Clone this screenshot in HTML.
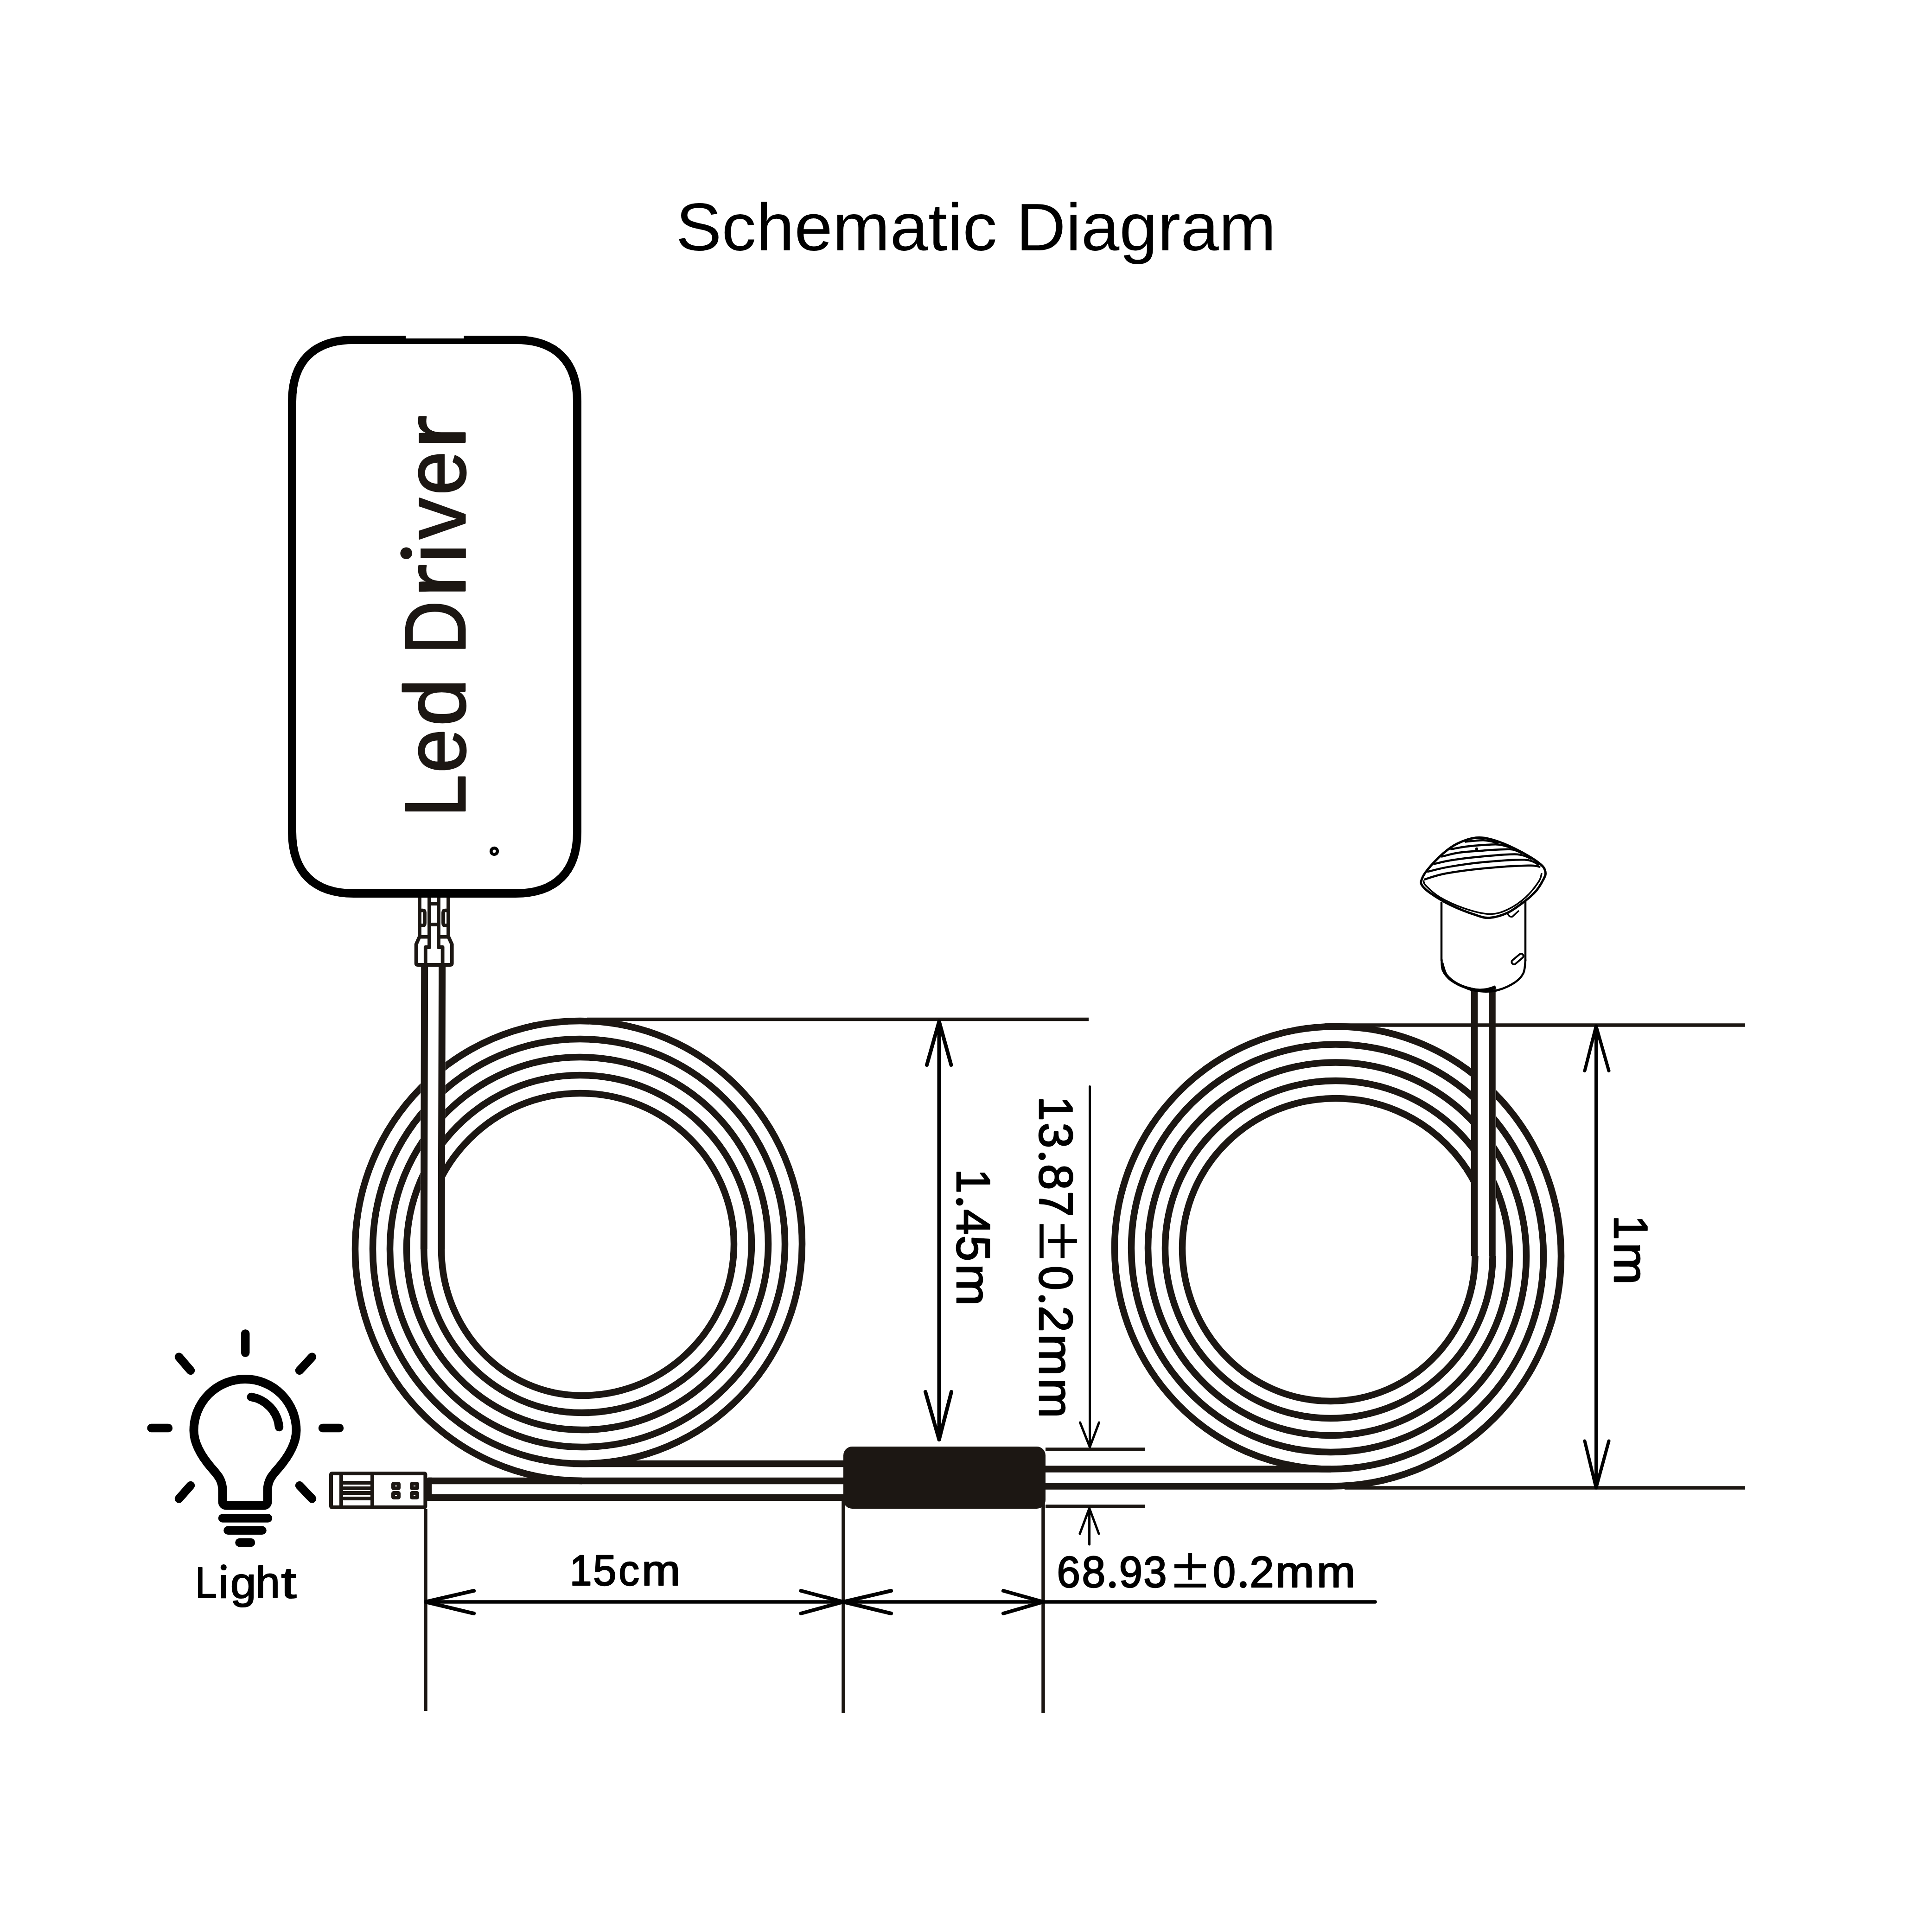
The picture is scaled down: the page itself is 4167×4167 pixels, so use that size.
<!DOCTYPE html>
<html><head><meta charset="utf-8"><title>Schematic Diagram</title>
<style>html,body{margin:0;padding:0;background:#fff;width:4167px;height:4167px;overflow:hidden}svg{display:block;font-family:"Liberation Sans",sans-serif}</style>
</head><body><svg width="4167" height="4167" viewBox="0 0 4167 4167" font-family="Liberation Sans, sans-serif"><rect width="4167" height="4167" fill="#fff"/><text x="1457.57" y="539.70" font-size="144.69" textLength="1294.84" lengthAdjust="spacingAndGlyphs" fill="#000">Schematic Diagram</text><path d="M763 733 H1112 C1198.5 733 1245 779.5 1245 866 V1794 C1245 1880.5 1198.5 1927 1112 1927 H763 C676.5 1927 630 1880.5 630 1794 V866 C630 779.5 676.5 733 763 733 Z" fill="none" stroke="#000" stroke-width="18"/><rect x="875" y="720" width="125.5" height="10" fill="#fff"/><circle cx="1066" cy="1836" r="6.8" fill="none" stroke="#000" stroke-width="6.8"/><text transform="translate(1003.20 1762.49) rotate(-90)" font-size="186.34" textLength="92.19" lengthAdjust="spacingAndGlyphs" fill="#1c1713" stroke="#1c1713" stroke-width="3.00" stroke-linejoin="round">L</text><text transform="translate(1003.20 1667.28) rotate(-90)" font-size="186.34" textLength="95.02" lengthAdjust="spacingAndGlyphs" fill="#1c1713" stroke="#1c1713" stroke-width="3.00" stroke-linejoin="round">e</text><text transform="translate(1003.20 1566.43) rotate(-90)" font-size="186.34" textLength="103.69" lengthAdjust="spacingAndGlyphs" fill="#1c1713" stroke="#1c1713" stroke-width="3.00" stroke-linejoin="round">d</text><text transform="translate(1003.20 1411.23) rotate(-90)" font-size="186.34" textLength="115.65" lengthAdjust="spacingAndGlyphs" fill="#1c1713" stroke="#1c1713" stroke-width="3.00" stroke-linejoin="round">D</text><text transform="translate(1003.20 1288.89) rotate(-90)" font-size="186.34" textLength="72.60" lengthAdjust="spacingAndGlyphs" fill="#1c1713" stroke="#1c1713" stroke-width="3.00" stroke-linejoin="round">r</text><text transform="translate(1003.20 1163.01) rotate(-90)" font-size="186.34" textLength="89.02" lengthAdjust="spacingAndGlyphs" fill="#1c1713" stroke="#1c1713" stroke-width="3.00" stroke-linejoin="round">v</text><text transform="translate(1003.20 1067.98) rotate(-90)" font-size="186.34" textLength="95.02" lengthAdjust="spacingAndGlyphs" fill="#1c1713" stroke="#1c1713" stroke-width="3.00" stroke-linejoin="round">e</text><text transform="translate(1003.20 968.39) rotate(-90)" font-size="186.34" textLength="73.13" lengthAdjust="spacingAndGlyphs" fill="#1c1713" stroke="#1c1713" stroke-width="3.00" stroke-linejoin="round">r</text><rect x="907.2" y="1183.1" width="97.6" height="20.2" fill="#1c1713"/><circle cx="876.2" cy="1193.2" r="12.8" fill="#1c1713"/><path d="M905 1936V2020L897.6 2036.6V2078Q897.6 2081 901 2081H971Q974.7 2081 974.7 2078V2036.6L967 2020V1936M926 1936V2043H917.8V2081M946 1936V2043H954.6V2081M926 1949H946M926 1994H946M905 1963.7H912Q916 1963.7 916 1968V1991Q916 1995.8 912 1995.8H905M967 1963.7H960Q956 1963.7 956 1968V1991Q956 1995.8 960 1995.8H967M905 2020.6H926M946 2020.6H967" fill="none" stroke="#1c1713" stroke-width="7.8" stroke-linejoin="round"/><path d="M952 2694C952 2868.5 1087.7 3010 1255 3010C1436.2 3010 1583 2863.6 1583 2683C1583 2503.5 1434.4 2358 1251 2358C1065 2358 914.3 2508.4 914.3 2694C914.3 2889 1066.8 3047 1255 3047C1457.1 3047 1621 2884 1621 2683C1621 2482 1455.4 2319 1251 2319C1044.4 2319 877 2486.9 877 2694C877 2909.4 1046.2 3084 1255 3084C1477 3084 1657 2904.5 1657 2683C1657 2460.4 1475.2 2280 1251 2280C1024.6 2280 841 2465.3 841 2694C841 2929.8 1026.3 3121 1255 3121C1496.9 3121 1693 2924.9 1693 2683C1693 2438.9 1495.1 2241 1251 2241C1004.1 2241 804 2443.8 804 2694C804 2949.7 1005.9 3157 1255 3157C1517.3 3157 1730 2944.8 1730 2683C1730 2417.3 1515.6 2202 1251 2202C983.1 2202 766 2422.3 766 2694C766 2970.2 984.9 3194 1255 3194" fill="none" stroke="#1c1713" stroke-width="14.5"/><path d="M3181.5 2709C3181.5 2881.9 3042 3022 2870 3022C2693.3 3022 2550 2874.3 2550 2692C2550 2513.6 2698.2 2369 2881 2369C3068 2369 3219.5 2521.2 3219.5 2709C3219.5 2902.3 3063 3059 2870 3059C2672.8 3059 2513 2894.7 2513 2692C2513 2492.6 2677.8 2331 2881 2331C3088.1 2331 3256 2500.2 3256 2709C3256 2922.7 3083.2 3096 2870 3096C2652.4 3096 2476 2915.1 2476 2692C2476 2470.8 2657.3 2291.5 2881 2291.5C3108 2291.5 3292 2478.4 3292 2709C3292 2942.6 3103.1 3132 2870 3132C2632.5 3132 2440 2935 2440 2692C2440 2449.3 2637.4 2252.5 2881 2252.5C3128.4 2252.5 3329 2456.9 3329 2709C3329 2962.8 3123.5 3168.6 2870 3168.6C2612.6 3168.6 2404 2955.2 2404 2692C2404 2428 2617.6 2214 2881 2214C3149.4 2214 3367 2435.6 3367 2709C3367 2983.3 3144.5 3205.6 2870 3205.6" fill="none" stroke="#1c1713" stroke-width="14.5"/><path d="M908 2085H961L959.5 2694H906.5Z" fill="#fff"/><path d="M915.7 2085L914.3 2694M953.6 2085L952 2694" stroke="#1c1713" stroke-width="15" fill="none"/><rect x="3174" y="2142" width="53" height="567" fill="#fff"/><path d="M3180 2133V2709M3218.5 2130V2709" stroke="#1c1713" stroke-width="14.5" fill="none"/><path d="M1235 3157H1830M924 3194H1830M924 3230H1830M2245 3168.5H2870 M2245 3205.6H2870" stroke="#1c1713" stroke-width="14.5" fill="none"/><path d="M931 3194H924V3230H931" stroke="#1c1713" stroke-width="14.5" fill="none" stroke-linejoin="round"/><rect x="1819" y="3120" width="436" height="134" rx="19" fill="#1c1713"/><rect x="714" y="3178" width="203.4" height="73" rx="2" fill="#fff" stroke="#1c1713" stroke-width="8"/><path d="M736 3178V3251M803 3178V3251M740 3198H799M740 3210H799M740 3220H799M740 3232H799" stroke="#1c1713" stroke-width="8" fill="none"/><rect x="844" y="3196" width="20" height="18" rx="5" fill="#1c1713"/><rect x="852" y="3204" width="4" height="2" fill="#fff"/><rect x="884" y="3196" width="20" height="18" rx="5" fill="#1c1713"/><rect x="892" y="3204" width="4" height="2" fill="#fff"/><rect x="844" y="3216" width="20" height="18" rx="5" fill="#1c1713"/><rect x="852" y="3224" width="4" height="2" fill="#fff"/><rect x="884" y="3216" width="20" height="18" rx="5" fill="#1c1713"/><rect x="892" y="3224" width="4" height="2" fill="#fff"/><path d="M1266 2198.5H2348M2255 3126H2470M2255 3249H2470M2857 2211H3764M2900 3209H3764M918 3255V3690M1819 3236V3695M2250 3240V3695" stroke="#1c1713" stroke-width="7.5" fill="none"/><path d="M918 3455H2966" stroke="#000" stroke-width="7.5" stroke-linecap="round" fill="none"/><path d="M2025.5 2203V3105M1999 2297L2025.5 2203L2051.5 2297M1996 3002L2025.5 3105L2052 3002" stroke="#000" stroke-width="8" stroke-linecap="round" stroke-linejoin="round" fill="none"/><path d="M2350.5 2343.5V3121M2329.5 3068L2350.5 3121L2370.5 3068M2349.6 3331V3253M2329 3308L2349.6 3253L2370 3308" stroke="#000" stroke-width="5" stroke-linecap="round" stroke-linejoin="round" fill="none"/><path d="M3442.5 2213V3209M3418 2309.5L3442.5 2213L3470 2309.5M3418 3108L3442.5 3209L3470 3108" stroke="#000" stroke-width="7" stroke-linecap="round" stroke-linejoin="round" fill="none"/><path d="M1022 3431L918 3455L1022 3480M1727.5 3431L1819 3455L1727.5 3480M1922 3431L1819 3455L1922 3480M2164 3431L2250 3455L2164 3480" stroke="#000" stroke-width="8" stroke-linecap="round" stroke-linejoin="round" fill="none"/><text transform="translate(2064.20 2521.21) rotate(90)" font-size="102.18" textLength="52.65" lengthAdjust="spacingAndGlyphs" fill="#000" stroke="#000" stroke-width="2.60" stroke-linejoin="round">1</text><circle cx="2069.7" cy="2592.1" r="8.2" fill="#000"/><text transform="translate(2064.20 2608.01) rotate(90)" font-size="102.18" textLength="55.28" lengthAdjust="spacingAndGlyphs" fill="#000" stroke="#000" stroke-width="2.60" stroke-linejoin="round">4</text><text transform="translate(2064.20 2664.80) rotate(90)" font-size="102.18" textLength="55.62" lengthAdjust="spacingAndGlyphs" fill="#000" stroke="#000" stroke-width="2.60" stroke-linejoin="round">5</text><text transform="translate(2064.20 2725.69) rotate(90)" font-size="102.18" textLength="91.03" lengthAdjust="spacingAndGlyphs" fill="#000" stroke="#000" stroke-width="2.60" stroke-linejoin="round">m</text><text transform="translate(2242.30 2365.11) rotate(90)" font-size="102.33" textLength="52.65" lengthAdjust="spacingAndGlyphs" fill="#000" stroke="#000" stroke-width="2.60" stroke-linejoin="round">1</text><text transform="translate(2242.30 2421.33) rotate(90)" font-size="102.33" textLength="55.15" lengthAdjust="spacingAndGlyphs" fill="#000" stroke="#000" stroke-width="2.60" stroke-linejoin="round">3</text><circle cx="2247.6" cy="2494.1" r="8.1" fill="#000"/><text transform="translate(2242.30 2510.79) rotate(90)" font-size="102.33" textLength="55.73" lengthAdjust="spacingAndGlyphs" fill="#000" stroke="#000" stroke-width="2.60" stroke-linejoin="round">8</text><text transform="translate(2242.30 2568.99) rotate(90)" font-size="102.33" textLength="55.74" lengthAdjust="spacingAndGlyphs" fill="#000" stroke="#000" stroke-width="2.60" stroke-linejoin="round">7</text><text transform="translate(2242.30 2730.08) rotate(90)" font-size="102.33" textLength="53.06" lengthAdjust="spacingAndGlyphs" fill="#000" stroke="#000" stroke-width="2.60" stroke-linejoin="round">0</text><circle cx="2247.3" cy="2801.3" r="7.8" fill="#000"/><text transform="translate(2242.30 2816.19) rotate(90)" font-size="102.33" textLength="56.84" lengthAdjust="spacingAndGlyphs" fill="#000" stroke="#000" stroke-width="2.60" stroke-linejoin="round">2</text><text transform="translate(2242.30 2877.14) rotate(90)" font-size="102.33" textLength="90.43" lengthAdjust="spacingAndGlyphs" fill="#000" stroke="#000" stroke-width="2.60" stroke-linejoin="round">m</text><text transform="translate(2242.30 2972.92) rotate(90)" font-size="102.33" textLength="85.56" lengthAdjust="spacingAndGlyphs" fill="#000" stroke="#000" stroke-width="2.60" stroke-linejoin="round">m</text><text transform="translate(3482.00 2621.31) rotate(90)" font-size="102.62" textLength="52.65" lengthAdjust="spacingAndGlyphs" fill="#000" stroke="#000" stroke-width="2.60" stroke-linejoin="round">1</text><text transform="translate(3482.00 2679.99) rotate(90)" font-size="102.62" textLength="91.03" lengthAdjust="spacingAndGlyphs" fill="#000" stroke="#000" stroke-width="2.60" stroke-linejoin="round">m</text><text x="1228.93" y="3418.50" font-size="93.60" textLength="47.36" lengthAdjust="spacingAndGlyphs" fill="#000" stroke="#000" stroke-width="2.60" stroke-linejoin="round">1</text><text x="1279.29" y="3418.50" font-size="93.60" textLength="50.22" lengthAdjust="spacingAndGlyphs" fill="#000" stroke="#000" stroke-width="2.60" stroke-linejoin="round">5</text><text x="1334.34" y="3418.50" font-size="93.60" textLength="44.79" lengthAdjust="spacingAndGlyphs" fill="#000" stroke="#000" stroke-width="2.60" stroke-linejoin="round">c</text><text x="1383.90" y="3418.50" font-size="93.60" textLength="83.30" lengthAdjust="spacingAndGlyphs" fill="#000" stroke="#000" stroke-width="2.60" stroke-linejoin="round">m</text><text x="2279.48" y="3423.20" font-size="94.33" textLength="50.43" lengthAdjust="spacingAndGlyphs" fill="#000" stroke="#000" stroke-width="2.60" stroke-linejoin="round">6</text><text x="2333.38" y="3423.20" font-size="94.33" textLength="50.65" lengthAdjust="spacingAndGlyphs" fill="#000" stroke="#000" stroke-width="2.60" stroke-linejoin="round">8</text><circle cx="2399.2" cy="3417.9" r="7.4" fill="#000"/><text x="2413.75" y="3423.20" font-size="94.33" textLength="50.32" lengthAdjust="spacingAndGlyphs" fill="#000" stroke="#000" stroke-width="2.60" stroke-linejoin="round">9</text><text x="2466.37" y="3423.20" font-size="94.33" textLength="50.22" lengthAdjust="spacingAndGlyphs" fill="#000" stroke="#000" stroke-width="2.60" stroke-linejoin="round">3</text><text x="2616.28" y="3423.20" font-size="94.33" textLength="48.75" lengthAdjust="spacingAndGlyphs" fill="#000" stroke="#000" stroke-width="2.60" stroke-linejoin="round">0</text><circle cx="2681.3" cy="3417.8" r="7.5" fill="#000"/><text x="2695.29" y="3423.20" font-size="94.33" textLength="52.44" lengthAdjust="spacingAndGlyphs" fill="#000" stroke="#000" stroke-width="2.60" stroke-linejoin="round">2</text><text x="2750.46" y="3423.20" font-size="94.33" textLength="83.78" lengthAdjust="spacingAndGlyphs" fill="#000" stroke="#000" stroke-width="2.60" stroke-linejoin="round">m</text><text x="2839.78" y="3423.20" font-size="94.33" textLength="83.54" lengthAdjust="spacingAndGlyphs" fill="#000" stroke="#000" stroke-width="2.60" stroke-linejoin="round">m</text><text x="421.02" y="3446.20" font-size="94.62" textLength="46.66" lengthAdjust="spacingAndGlyphs" fill="#000" stroke="#000" stroke-width="2.20" stroke-linejoin="round">L</text><text x="496.77" y="3446.20" font-size="94.62" textLength="55.99" lengthAdjust="spacingAndGlyphs" fill="#000" stroke="#000" stroke-width="2.20" stroke-linejoin="round">g</text><text x="551.49" y="3446.20" font-size="94.62" textLength="52.45" lengthAdjust="spacingAndGlyphs" fill="#000" stroke="#000" stroke-width="2.20" stroke-linejoin="round">h</text><text x="606.31" y="3446.20" font-size="94.62" textLength="33.10" lengthAdjust="spacingAndGlyphs" fill="#000" stroke="#000" stroke-width="2.20" stroke-linejoin="round">t</text><rect x="476.9" y="3396.9" width="10.6" height="50.4" fill="#000"/><circle cx="482.3" cy="3380.6" r="6.5" fill="#000"/><path d="M2533 3378H2601M2567 3349V3407.2M2533 3419.8H2601" stroke="#000" stroke-width="8.3" fill="none"/><path d="M2246.5 2640.2V2713.6M2291.8 2640.2V2713.6M2260.5 2676.7H2322.8" stroke="#000" stroke-width="8.6" fill="none"/><path d="M529.2 2876.4V2917.8M386 2926.8L411 2956M673 2926.8L646 2956M326.5 3080H363M696 3080H732M386 3232.5L411 3204M673 3232.5L646 3204M541.8 3013A73 73 0 0 1 602 3078M480 3274.5H578M491.5 3300.7H565.5M516.5 3327H541" stroke="#000" stroke-width="18.5" stroke-linecap="round" fill="none"/><path d="M480 3238V3215C480 3192 470 3182 456 3166C432 3138 418 3112 418 3085A110.5 110.5 0 0 1 639 3085C639 3112 625 3138 601 3166C587 3182 577 3192 577 3215V3238Q577 3247 568 3247H489Q480 3247 480 3238Z" stroke="#000" stroke-width="19" fill="none"/><path d="M3109 1945V2072" stroke="#000" stroke-width="4.5"/><path d="M3290 1943V2072" stroke="#000" stroke-width="4.5"/><path d="M3109.3 2069.5C3109.8 2073.5 3108.7 2085.8 3112.1 2093.3C3115.6 2100.9 3121.5 2108.4 3130 2114.8C3138.5 2121.1 3151.8 2127.5 3163.3 2131.4C3174.8 2135.4 3187.5 2138 3199 2138.6C3210.6 2139.2 3220.9 2138.4 3232.4 2135C3243.9 2131.6 3259.2 2124.5 3268.1 2118.3C3277 2112.2 3282.3 2106.2 3286 2098.1C3289.6 2090 3289.5 2074.3 3290.2 2069.5" fill="none" stroke="#000" stroke-width="4.5"/><path d="M3111 2076.7C3112.5 2081 3114.9 2095.3 3120.5 2102.9C3126 2110.4 3134.8 2116.8 3144.3 2121.9C3153.8 2127 3166.5 2130.8 3177.6 2133.3C3188.7 2135.9 3205.4 2136.7 3211 2137.4" fill="none" stroke="#000" stroke-width="4.5"/><path d="M3183.5 1806.8C3196.5 1805.5 3206.8 1807.8 3220.8 1811.7C3234.8 1815.7 3253.2 1823.6 3267.4 1830.4C3281.6 1837.1 3296.1 1845.6 3306.2 1852.1C3316.3 1858.6 3323.4 1864 3328 1869.2C3332.5 1874.4 3333.1 1878.8 3333.4 1883.2C3333.6 1887.6 3332.7 1889.4 3329.5 1895.6C3326.3 1901.8 3320.4 1912.7 3314 1920.4C3307.5 1928.2 3301 1934.2 3290.7 1942.2C3280.3 1950.2 3264.8 1962.4 3251.9 1968.6C3238.9 1974.8 3224.7 1978.7 3213 1979.4C3201.4 1980.2 3196.2 1977.9 3182 1973.2C3167.8 1968.6 3143.7 1959.3 3127.6 1951.5C3111.6 1943.7 3095.8 1933.6 3085.7 1926.6C3075.6 1919.7 3070.3 1914.5 3067.1 1909.6C3063.8 1904.6 3064.5 1902.6 3066.3 1897.1C3068.1 1891.7 3070.3 1886.3 3078 1877C3085.6 1867.6 3101.2 1850.8 3112.1 1841.2C3123 1831.7 3131.3 1825.2 3143.2 1819.5C3155.1 1813.8 3170.6 1808.1 3183.5 1806.8Z" fill="#fff" stroke="#000" stroke-width="5"/><path d="M3070.2 1898.7C3071 1900.5 3069.2 1903.6 3074.8 1909.6C3080.5 1915.5 3090.4 1926.1 3104.3 1934.4C3118.3 1942.7 3140.6 1953.1 3158.7 1959.3C3176.8 1965.4 3197.5 1971 3213 1971.4C3228.6 1971.8 3238.9 1967.6 3251.9 1961.6C3264.8 1955.6 3279.6 1945.2 3290.7 1935.2C3301.8 1925.2 3312.9 1910.5 3318.6 1901.8C3324.4 1893.1 3324.1 1886.3 3325.2 1883.2" fill="none" stroke="#000" stroke-width="3.5"/><path d="M3159.3 1815.6C3166.1 1815 3187.8 1811.8 3200 1812.3C3212.2 1812.8 3226.9 1817.5 3232.3 1818.6" fill="none" stroke="#000" stroke-width="4.5"/><path d="M3128.1 1831.9C3133.7 1830.9 3149.4 1827.6 3161.4 1826C3173.4 1824.4 3187.9 1823.2 3200 1822.5C3212.1 1821.8 3223.9 1820.7 3233.8 1821.7C3243.7 1822.7 3255.1 1827.5 3259.4 1828.7" fill="none" stroke="#000" stroke-width="4.5"/><path d="M3108.6 1847.8C3115 1846.3 3131.8 1841.2 3147 1839C3162.2 1836.8 3181.7 1835.7 3200 1834.5C3218.3 1833.3 3243.2 1830.9 3257 1831.8C3270.8 1832.7 3278.4 1838.6 3282.7 1840" fill="none" stroke="#000" stroke-width="4.5"/><path d="M3091.9 1863.8C3098.7 1862.3 3114.5 1857.8 3132.5 1855C3150.5 1852.2 3176.7 1849 3200 1847C3223.3 1845 3255.3 1841.7 3272.6 1842.7C3289.9 1843.7 3298.5 1851.1 3303.7 1852.8" fill="none" stroke="#000" stroke-width="4.5"/><path d="M3078.1 1880.4C3085.9 1878.6 3104.9 1873.1 3125.2 1869.6C3145.5 1866.1 3172.8 1862 3200 1859.5C3227.2 1857 3268.3 1853.3 3288.2 1854.3C3308.1 1855.2 3314 1863.4 3319.2 1865.2" fill="none" stroke="#000" stroke-width="4.5"/><path d="M3070.9 1897.1C3078.8 1894.9 3096.5 1888 3118 1884C3139.5 1880 3170.3 1875.9 3200 1873C3229.7 1870.1 3275.6 1867.3 3296 1866.8C3316.4 1866.3 3317.9 1869.4 3322.3 1869.9" fill="none" stroke="#000" stroke-width="4.5"/><circle cx="3185" cy="1831" r="3.2" fill="#000"/><rect x="3259" y="2066" width="30" height="10" rx="5" transform="rotate(-40 3270 2071)" fill="none" stroke="#000" stroke-width="4"/><path d="M3251 1968Q3254 1979 3262 1977L3276 1964" fill="none" stroke="#000" stroke-width="3.5"/><path d="M3166 2131.5Q3196 2142 3226 2128.5" stroke="#000" stroke-width="7" fill="none"/></svg></body></html>
